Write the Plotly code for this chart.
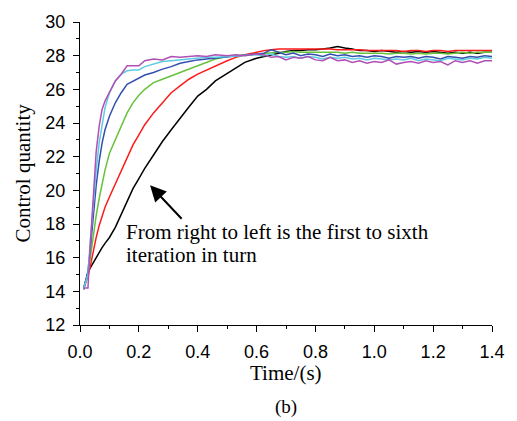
import plotly.graph_objects as go

# time grid (s)
t_rise = [0.013, 0.027, 0.035, 0.045, 0.055, 0.065, 0.075, 0.085, 0.10, 0.12,
          0.14, 0.16, 0.18, 0.20, 0.22, 0.25, 0.28, 0.31, 0.34, 0.37,
          0.40, 0.43, 0.46, 0.50, 0.53, 0.56]
t_plateau = [0.600, 0.625, 0.650, 0.675, 0.700, 0.725, 0.750, 0.775, 0.800, 0.825,
             0.850, 0.875, 0.900, 0.925, 0.950, 0.975, 1.000, 1.025, 1.050, 1.075,
             1.100, 1.125, 1.150, 1.175, 1.200, 1.225, 1.250, 1.275, 1.300, 1.325,
             1.350, 1.375, 1.400]

# 1st iteration (black)
black_rise = [14.25, 15.1, 15.4, 15.7, 16.0, 16.35, 16.6, 16.85, 17.2, 17.8,
              18.6, 19.4, 20.1, 20.7, 21.3, 22.1, 22.9, 23.6, 24.3, 24.95,
              25.6, 26.0, 26.5, 26.95, 27.25, 27.6]
black_plateau = [27.85, 27.95, 28.05, 28.15, 28.25, 28.3, 28.3, 28.35, 28.35, 28.4,
                 28.45, 28.55, 28.45, 28.4, 28.3, 28.3, 28.25, 28.3, 28.25, 28.2,
                 28.25, 28.2, 28.25, 28.2, 28.25, 28.2, 28.15, 28.2, 28.15, 28.2,
                 28.15, 28.2, 28.2]
# 2nd iteration (red)
red_rise = [14.2, 14.9, 15.5, 16.4, 17.2, 17.9, 18.5, 19.0, 19.6, 20.4,
            21.2, 22.0, 22.7, 23.3, 23.9, 24.6, 25.2, 25.8, 26.2, 26.6,
            26.9, 27.15, 27.4, 27.7, 27.9, 28.05]
red_plateau = [28.2, 28.3, 28.35, 28.4, 28.4, 28.4, 28.4, 28.4, 28.4, 28.4,
               28.4, 28.35, 28.35, 28.35, 28.35, 28.3, 28.3, 28.3, 28.3, 28.3,
               28.25, 28.3, 28.3, 28.25, 28.3, 28.3, 28.25, 28.3, 28.3, 28.3,
               28.3, 28.3, 28.3]
# 3rd iteration (green)
green_rise = [14.2, 15.0, 16.0, 17.3, 18.5, 19.5, 20.4, 21.2, 22.2, 23.0,
              23.9, 24.6, 25.2, 25.65, 26.0, 26.4, 26.6, 26.8, 27.0, 27.2,
              27.4, 27.6, 27.8, 27.95, 28.0, 28.05]
green_plateau = [28.1, 28.15, 28.2, 28.2, 28.2, 28.25, 28.2, 28.2, 28.2, 28.2,
                 28.2, 28.2, 28.15, 28.2, 28.15, 28.15, 28.15, 28.15, 28.1, 28.15,
                 28.15, 28.1, 28.15, 28.1, 28.15, 28.15, 28.1, 28.15, 28.2, 28.15,
                 28.2, 28.2, 28.2]
# 4th iteration (blue)
blue_rise = [14.1, 15.2, 16.5, 18.6, 20.3, 21.7, 22.8, 23.6, 24.4, 25.2,
             25.8, 26.3, 26.5, 26.7, 26.85, 27.0, 27.2, 27.35, 27.55, 27.65,
             27.75, 27.8, 27.85, 27.95, 28.0, 28.05]
blue_plateau = [28.1, 28.15, 28.35, 28.2, 28.05, 28.15, 28.0, 28.1, 28.05, 27.95,
                28.1, 28.0, 28.05, 27.95, 28.0, 27.9, 28.0, 27.95, 27.85, 27.95,
                27.9, 27.95, 27.85, 27.95, 27.9, 27.8, 27.95, 27.9, 27.85, 27.95,
                27.9, 28.0, 27.95]
# 5th iteration (cyan)
cyan_rise = [14.2, 15.0, 17.0, 19.3, 21.2, 22.8, 24.0, 24.9, 25.8, 26.5,
             26.9, 27.1, 27.15, 27.15, 27.35, 27.5, 27.65, 27.7, 27.75, 27.8,
             27.85, 27.9, 27.9, 27.95, 28.0, 28.0]
cyan_plateau = [28.05, 28.0, 28.1, 27.95, 27.9, 27.95, 27.85, 27.95, 27.9, 27.8,
                27.9, 27.85, 27.9, 27.8, 27.85, 27.75, 27.85, 27.8, 27.75, 27.8,
                27.75, 27.85, 27.7, 27.8, 27.75, 27.7, 27.85, 27.8, 27.75, 27.85,
                27.8, 27.9, 27.85]
# 6th iteration (magenta)
magenta_rise = [14.2, 14.2, 16.8, 19.8, 22.3, 23.8, 24.8, 25.3, 25.8, 26.5,
                26.9, 27.4, 27.4, 27.4, 27.7, 27.8, 27.75, 27.95, 27.9, 27.95,
                28.0, 27.95, 28.05, 28.0, 28.05, 28.0]
magenta_plateau = [28.1, 28.05, 27.9, 27.95, 27.75, 27.9, 27.85, 27.95, 27.75, 27.7,
                   27.9, 27.7, 27.75, 27.6, 27.7, 27.55, 27.65, 27.6, 27.75, 27.5,
                   27.6, 27.65, 27.55, 27.7, 27.6, 27.65, 27.45, 27.7, 27.6, 27.7,
                   27.55, 27.7, 27.7]

x_ticks = [0.0, 0.2, 0.4, 0.6, 0.8, 1.0, 1.2, 1.4]
x_tick_labels = ["0.0", "0.2", "0.4", "0.6", "0.8", "1.0", "1.2", "1.4"]
y_ticks = [12, 14, 16, 18, 20, 22, 24, 26, 28, 30]

series = [
    (black_rise + black_plateau, "#000000"),
    (red_rise + red_plateau, "#ff1a1a"),
    (green_rise + green_plateau, "#66c23a"),
    (blue_rise + blue_plateau, "#3450ae"),
    (cyan_rise + cyan_plateau, "#5ccbe3"),
    (magenta_rise + magenta_plateau, "#b050b5"),
]
t_all = t_rise + t_plateau

fig = go.Figure()
for ys, col in series:
    fig.add_trace(go.Scatter(x=t_all, y=ys, mode="lines",
                             line=dict(color=col, width=1.5), showlegend=False))

serif = "'Liberation Serif', 'Times New Roman', serif"
sans = "'Liberation Sans', Arial, sans-serif"

fig.update_layout(
    width=517, height=421,
    margin=dict(l=80, r=20, t=19, b=96),
    paper_bgcolor="white", plot_bgcolor="white",
    font=dict(family=sans, size=18, color="black"),
    xaxis=dict(range=[0, 1.4], tickvals=x_ticks, ticktext=x_tick_labels,
               showgrid=False, zeroline=False, showline=True, linecolor="black",
               linewidth=1.2, ticks="outside", ticklen=6, tickwidth=1.2,
               tickcolor="black", ticklabelstandoff=4,
               minor=dict(ticks="outside", ticklen=3, tickwidth=1.2,
                          tickcolor="black", dtick=0.1, tick0=0, showgrid=False),
               tickfont=dict(family=sans, size=18)),
    yaxis=dict(range=[12, 30], tickvals=y_ticks, showgrid=False, zeroline=False,
               showline=True, linecolor="black", linewidth=1.2,
               ticks="outside", ticklen=6, tickwidth=1.2, tickcolor="black",
               ticklabelstandoff=4,
               minor=dict(ticks="outside", ticklen=3, tickwidth=1.2,
                          tickcolor="black", dtick=1, tick0=12, showgrid=False),
               tickfont=dict(family=sans, size=18)),
)

annotations = [
    dict(text="Time/(s)", xref="paper", yref="paper", x=0.5, y=0,
         yanchor="middle", yshift=-48, showarrow=False,
         font=dict(family=serif, size=21)),
    dict(text="(b)", xref="paper", yref="paper", x=0.5, y=0,
         yanchor="middle", yshift=-82, showarrow=False,
         font=dict(family=serif, size=19)),
    dict(text="Control quantity", xref="paper", yref="paper", x=0, y=0.5,
         xanchor="center", xshift=-58, textangle=-90, showarrow=False,
         font=dict(family=serif, size=21)),
    dict(text="From right to left is the first to sixth", xref="x", yref="y",
         x=0.15, y=17.55, xanchor="left", yanchor="middle", showarrow=False,
         font=dict(family=serif, size=21)),
    dict(text="iteration in turn", xref="x", yref="y",
         x=0.15, y=16.15, xanchor="left", yanchor="middle", showarrow=False,
         font=dict(family=serif, size=21)),
    dict(text="", xref="x", yref="y", x=0.238, y=20.3, ax=33, ay=35,
         showarrow=True, arrowhead=2, arrowsize=1.6, arrowwidth=2,
         arrowcolor="black"),
]
fig.update_layout(annotations=annotations)

fig.write_html("out.html",
               config={"displayModeBar": False},
               post_script="document.body.style.margin='0px';")
